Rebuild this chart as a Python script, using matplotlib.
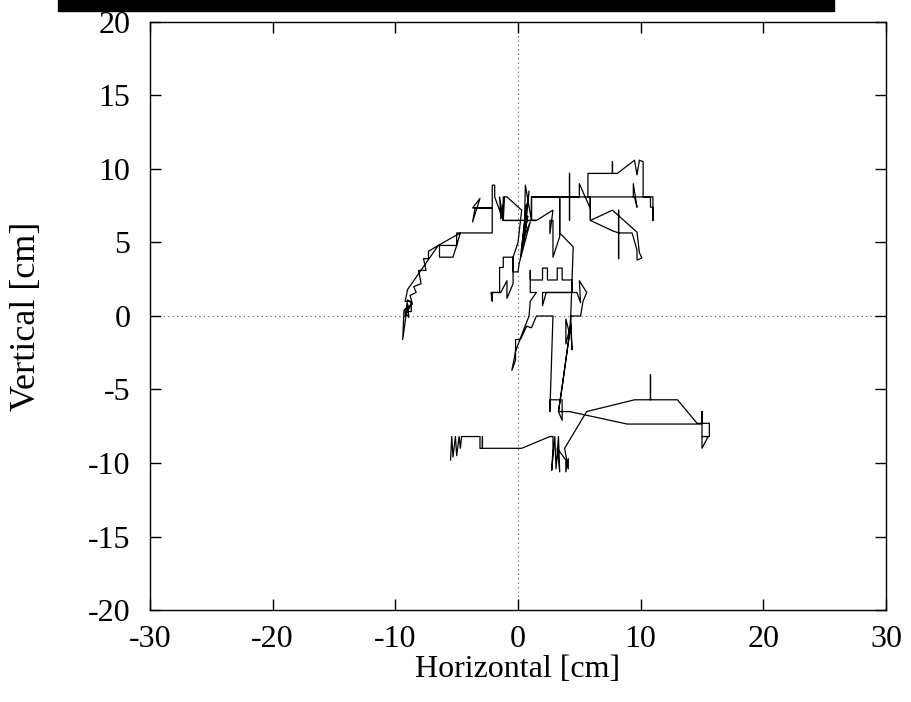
import matplotlib
matplotlib.use("Agg")
import matplotlib.pyplot as plt
from matplotlib.patches import Rectangle

# trajectory of the tracked point, in cm
horizontal = [
    # bottom-left cluster and box
    -5.5, -5.4, -5.3, -5.1, -5.0, -4.8, -4.7, -4.6,
    -3.1, -3.1, -2.9, -2.9, -2.9,
    # along y=-9 to the bottom-centre cluster
    0.3, 2.6, 2.85, 2.85,
    2.75, 3.0, 3.1, 3.3, 3.4, 3.2, 3.9, 3.9, 4.1, 4.1, 3.8,
    # excursion to the right
    5.6, 9.5, 10.8, 10.8, 10.8, 13.0, 14.6, 15.0, 15.0, 15.0, 15.6, 15.6, 15.0, 15.0, 15.5, 15.0, 15.0,
    8.9, 4.2, 3.6, 3.6, 3.3, 3.6, 3.6, 2.6, 2.6,
    # centre cluster
    2.85, 1.5, 1.1, 0.7, 0.2, -0.2, -0.2, -0.5, -0.2, 0.2, 0.9, 1.0, 1.5, 1.0, 1.0, 1.0,
    2.0, 2.0, 2.4, 2.4, 3.2, 3.2, 3.6, 3.6, 4.4, 4.4, 2.0, 2.0, 2.3, 4.8, 5.1, 5.0, 5.6, 5.3, 5.1,
    4.3, 4.4, 4.3, 3.9, 3.9, 4.2, 3.6, 3.3, 3.6, 4.2, 4.3, 4.4,
    # up towards the top
    4.5, 3.4, 3.4, 3.4, 2.85, 2.85, 2.6, 2.6, 2.85, 1.5, 1.1, 1.1,
    # along y=8.1 and the top-right box
    4.2, 4.2, 4.2, 4.2, 5.0, 5.0, 5.9, 5.9, 5.7, 5.7, 7.7, 7.7, 7.7, 8.1, 9.5, 9.7, 9.9, 10.2, 10.2,
    11.0, 11.0, 11.0, 10.8, 10.8, 9.4, 9.4, 9.7, 9.5, 5.9, 5.9,
    # branch down to the right
    7.7, 9.7, 9.9, 10.1, 9.7, 9.7, 9.3, 8.2, 8.2, 8.2, 8.2, 7.7, 5.9, 5.9,
    # back west along the top
    1.1, 1.1, 0.6, 0.5, 0.9, 0.3, 0.8, 0.2, 0.7, 0.4, 1.0, 0.1,
    0.0, -0.4, -0.4, -1.2, -1.2, -1.5, -1.5, -2.2, -2.1, -2.1, -1.4, -0.9, -0.9, -0.4, -0.4,
    0.0, 0.3, -0.9, -1.2, -1.2, -1.5, -1.4, -1.1, -1.2, 1.5, -1.2,
    -1.9, -1.9, -2.1, -2.1, -3.7, -3.1, -3.7, -3.5, -2.1, -2.1, -4.7,
    # left arc down to the far-left cluster
    -5.0, -6.4, -6.4, -5.3, -5.0, -5.0, -4.7, -6.5, -7.3, -7.3, -7.7, -7.5, -8.1, -7.9,
    -8.5, -8.3, -8.8, -8.6, -9.0, -9.2, -8.7, -9.3, -8.9, -9.0, -9.4, -9.3, -8.7, -8.7, -9.2,
    -9.0, -6.5,
]
vertical = [
    -9.8, -8.2, -9.6, -8.2, -9.5, -8.2, -9.0, -8.2,
    -8.2, -9.0, -9.0, -8.2, -9.0,
    -9.0, -8.2, -8.2, -9.0,
    -10.5, -8.2, -10.4, -8.2, -10.6, -9.0, -9.8, -10.6, -9.7, -10.4, -9.0,
    -6.5, -5.7, -5.7, -4.0, -5.7, -5.7, -7.3, -7.3, -6.5, -7.3, -7.3, -8.2, -8.2, -9.0, -8.2, -8.2, -7.35,
    -7.35, -6.5, -6.5, -7.1, -6.5, -6.5, -5.7, -5.7, -6.5,
    0.0, 0.0, -0.8, -0.7, -1.6, -1.6, -3.0, -3.7, -2.4, -1.5, 0.0, 1.0, 1.6, 1.6, 3.1, 2.45,
    2.45, 3.26, 3.26, 2.45, 2.45, 3.26, 3.26, 2.45, 2.45, 1.6, 1.6, 0.7, 1.6, 1.6, 0.9, 2.4, 1.6, 1.0, 0.0,
    0.0, -2.3, -0.6, -1.9, -0.2, -1.2, -4.8, -6.5, -4.8, -1.2, 0.0, 2.45,
    4.7, 5.65, 8.1, 5.4, 4.0, 6.5, 6.5, 5.6, 7.2, 6.5, 6.5, 8.1,
    8.1, 9.7, 6.5, 8.1, 8.1, 9.0, 7.3, 8.1, 8.1, 9.7, 9.7, 10.5, 9.7, 9.7, 10.6, 9.6, 10.6, 10.5, 8.1,
    8.1, 6.5, 7.4, 7.4, 8.1, 8.1, 9.0, 7.4, 8.1, 8.1, 6.5,
    7.2, 5.7, 4.3, 3.95, 3.8, 4.5, 5.65, 5.65, 7.2, 3.9, 5.65, 5.8, 6.5, 8.1,
    8.1, 6.5, 8.9, 5.0, 8.5, 4.6, 6.8, 4.0, 7.6, 5.2, 6.4, 3.6,
    3.0, 3.0, 4.0, 4.0, 3.3, 3.3, 1.6, 1.6, 1.0, 1.6, 1.6, 2.4, 1.2, 2.2, 4.0,
    5.0, 7.2, 8.1, 8.1, 6.5, 8.1, 6.6, 8.1, 6.5, 6.5, 6.5,
    8.1, 8.9, 8.9, 7.35, 7.35, 8.0, 6.4, 7.35, 7.35, 5.65, 5.65,
    4.8, 4.8, 4.0, 4.0, 4.8, 5.65, 5.65, 4.8, 4.4, 3.9, 3.9, 3.1, 3.1, 2.2,
    2.0, 1.6, 1.4, 0.8, 1.1, 0.0, 0.8, 0.4, -0.1, 0.8, -1.6, 0.3, 0.3, 1.0, 1.0,
    1.8, 4.8,
]

x_ticks = [-30, -20, -10, 0, 10, 20, 30]
y_ticks = [-20, -15, -10, -5, 0, 5, 10, 15, 20]

plt.rcParams['font.family'] = ['Liberation Serif', 'DejaVu Serif']

fig = plt.figure(figsize=(9.11, 7.02), dpi=100)
ax = fig.add_axes([150 / 911, 1 - 610 / 702, 736 / 911, 588 / 702])

# zero axes, gnuplot style
ax.axhline(0, color='#555555', lw=0.8, ls=(0, (1, 3)), zorder=1)
ax.axvline(0, color='#555555', lw=0.8, ls=(0, (1, 3)), zorder=1)

ax.plot(horizontal, vertical, color='black', lw=0.9, zorder=2)

ax.set_xlim(-30, 30)
ax.set_ylim(-20, 20)
ax.set_xticks(x_ticks)
ax.set_yticks(y_ticks)
ax.set_xticklabels([str(t) for t in x_ticks])
ax.set_yticklabels([str(t) for t in y_ticks])
ax.tick_params(direction='in', length=8, width=1, top=True, right=True,
               labelsize=23, color='black')
ax.tick_params(axis='x', pad=11)
ax.tick_params(axis='y', pad=14)
for s in ax.spines.values():
    s.set_linewidth(1.0)

ax.set_xlabel('Horizontal [cm]', fontsize=23)
ax.xaxis.set_label_coords(0.5, -0.077)
ax.set_ylabel('Vertical [cm]', fontsize=26)
ax.yaxis.set_label_coords(-0.168, 0.5)
ax.yaxis.label.set_verticalalignment('center')

# black band across the top of the page
fig.patches.append(Rectangle((58 / 911, 1 - 11 / 702), 776 / 911, 11 / 702,
                             transform=fig.transFigure, color='black', zorder=5))

fig.savefig('out.png', dpi=100)
